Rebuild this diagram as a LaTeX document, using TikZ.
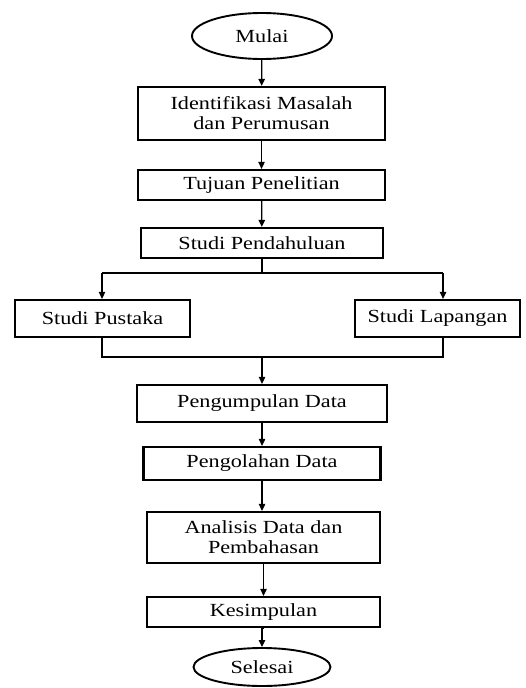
\documentclass[tikz,border=0pt]{standalone}
\usepackage{fontspec}
\setmainfont{Liberation Serif}[FakeStretch=1.2]
\usetikzlibrary{arrows.meta,shapes.geometric}
\begin{document}
\begin{tikzpicture}[x=1pt,y=-1pt,
  every node/.style={font=\fontsize{18.5}{20}\selectfont, inner sep=0pt, align=center},
  box/.style={draw, line width=2.3pt, minimum width=#1},
  term/.style={draw, ellipse, line width=1.9pt},
  conn/.style={line width=1.3pt},
  arr/.style={conn, -{Triangle[length=7pt,width=6.5pt]}}]
\useasboundingbox (0,0) rectangle (525,688);
\node[term, minimum width=140pt, minimum height=46pt] (start) at (262,36) {Mulai};
\node[box=247pt, minimum height=53pt] (b1) at (261.5,113.5) {Identifikasi Masalah\\dan Perumusan};
\node[box=247pt, minimum height=30pt] (b2) at (261.5,185) {Tujuan Penelitian};
\node[box=242pt, minimum height=30pt] (b3) at (262,243) {Studi Pendahuluan};
\node[box=175pt, minimum height=37pt] (sp) at (102.5,318.5) {Studi Pustaka};
\node[box=165pt, minimum height=37pt] (sl) at (437.5,318.5) {Studi Lapangan};
\node[box=250pt, minimum height=37pt] (b4) at (262,403.5) {Pengumpulan Data};
\node[box=237pt, minimum height=33pt] (b5) at (262,463.5) {Pengolahan Data};
\node[box=233pt, minimum height=51pt] (b6) at (263.5,537.5) {Analisis Data dan\\Pembahasan};
\node[box=233pt, minimum height=30pt] (b7) at (263.5,612) {Kesimpulan};
\node[term, minimum width=137pt, minimum height=38pt] (end) at (262,667) {Selesai};
\coordinate (sm) at (262,273);
\coordinate (sL) at (102,273);
\coordinate (sR) at (443,273);
\coordinate (mm) at (262,357);
\coordinate (mL) at (102,357);
\coordinate (mR) at (443,357);
\draw[arr] (start) -- (b1);
\draw[arr] (b1) -- (b2);
\draw[arr] (b2) -- (b3);
\draw[conn] (b3.south) -- (sm);
\draw[conn] (sL) -- (sR);
\draw[arr] (sL) -- (sL |- sp.north);
\draw[arr] (sR) -- (sR |- sl.north);
\draw[conn] (sL |- sp.south) -- (mL) -- (mR) -- (sR |- sl.south);
\draw[arr] (mm) -- (mm |- b4.north);
\draw[arr] (b4) -- (b5);
\draw[arr] (b5.south) -- (b5.south |- b6.north);
\draw[arr] (b6.south) -- (b6.south |- b7.north);
\draw[arr] (b7.south) -- (b7.south -| end.north) -- (end.north);
\end{tikzpicture}
\end{document}
